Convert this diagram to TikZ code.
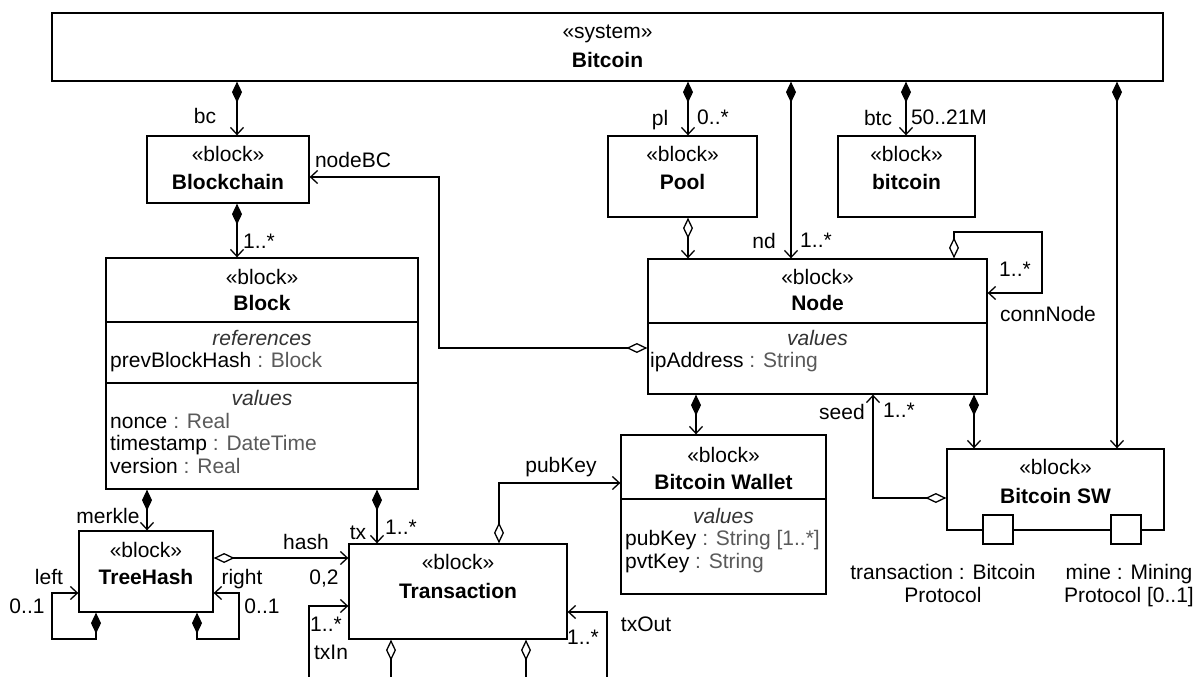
\documentclass[tikz,border=0pt]{standalone}
\usepackage{fontspec}
\setmainfont{Liberation Sans}
\usetikzlibrary{arrows.meta,calc}
\definecolor{typegray}{HTML}{5A5A5A}
\definecolor{stereogray}{HTML}{333333}
\begin{document}
\begin{tikzpicture}[x=1pt,y=-1pt,
  box/.style={draw, line width=1.3pt, inner sep=0pt, fill=white},
  lbl/.style={font=\fontsize{21}{23}\selectfont, inner sep=0pt, text height=15pt, text depth=2pt},
  ttl/.style={lbl, font=\fontsize{21}{23}\selectfont\bfseries},
  comptxt/.style={lbl, font=\fontsize{21}{23}\selectfont\itshape, text=stereogray},
  attr/.style={lbl, anchor=west},
  conn/.style={line width=1.3pt},
  comp/.style={conn, {Diamond[length=21pt,width=10pt]}-{Straight Barb[length=7pt,width=13pt]}},
  aggr/.style={conn, {Diamond[open,length=21pt,width=10pt]}-{Straight Barb[length=7pt,width=13pt]}},
  aggrn/.style={conn, {Diamond[open,length=21pt,width=10pt]}-},
  assoc/.style={conn, -{Straight Barb[length=7pt,width=13pt]}}
]
\useasboundingbox (0,0) rectangle (1203,677);
\fill[white] (0,0) rectangle (1203,677);

% ---------- boxes ----------
\node[box, minimum width=1111pt, minimum height=68pt] (sys) at (607.5,47) {};
\node[box, minimum width=162pt, minimum height=67pt] (blockchain) at (228,169.5) {};
\node[box, minimum width=149pt, minimum height=81pt] (pool) at (682.5,176.5) {};
\node[box, minimum width=137pt, minimum height=81pt] (btcb) at (906.5,176.5) {};
\node[box, minimum width=312pt, minimum height=231pt] (block) at (262,373.5) {};
\node[box, minimum width=339pt, minimum height=135pt] (nodeb) at (817.5,326.5) {};
\node[box, minimum width=205pt, minimum height=159pt] (wallet) at (723.5,514.5) {};
\node[box, minimum width=217pt, minimum height=81pt] (sw) at (1055.5,489.5) {};
\node[box, minimum width=134pt, minimum height=81pt] (treehash) at (146,571.5) {};
\node[box, minimum width=218pt, minimum height=95pt] (trans) at (458,591.5) {};
\node[box, minimum width=30pt, minimum height=29pt] (port1) at (998,529.5) {};
\node[box, minimum width=30pt, minimum height=29pt] (port2) at (1126,529.5) {};

% compartment lines
\coordinate (yb1) at (0,322);
\coordinate (yb2) at (0,383);
\coordinate (yn1) at (0,323);
\coordinate (yw1) at (0,499);
\draw[conn] (block.west |- yb1) -- (block.east |- yb1);
\draw[conn] (block.west |- yb2) -- (block.east |- yb2);
\draw[conn] (nodeb.west |- yn1) -- (nodeb.east |- yn1);
\draw[conn] (wallet.west |- yw1) -- (wallet.east |- yw1);

% ---------- box texts ----------
\node[lbl] (sysS) at (607.5,32) {«system»};
\node[ttl] (sysT) at (607.5,61) {Bitcoin};
\node[lbl] (bcS) at (228,155) {«block»};
\node[ttl] (bcT) at (228,183) {Blockchain};
\node[lbl] (plS) at (682.5,155) {«block»};
\node[ttl] (plT) at (682.5,183) {Pool};
\node[lbl] (btS) at (906.5,155) {«block»};
\node[ttl] (btT) at (906.5,183) {bitcoin};
\node[lbl] (blS) at (262,278) {«block»};
\node[ttl] (blT) at (262,304) {Block};
\node[comptxt] (blR) at (262,339) {references};
\node[attr] (blA1) at (110,361) {prevBlockHash \textcolor{typegray}{: Block}};
\node[comptxt] (blV) at (262,399) {values};
\node[attr] (blA2) at (110,422) {nonce \textcolor{typegray}{: Real}};
\node[attr] (blA3) at (110,444) {timestamp \textcolor{typegray}{: DateTime}};
\node[attr] (blA4) at (110,467) {version \textcolor{typegray}{: Real}};
\node[lbl] (ndS) at (817.5,278) {«block»};
\node[ttl] (ndT) at (817.5,304) {Node};
\node[comptxt] (ndV) at (817.5,339) {values};
\node[attr] (ndA1) at (650,361) {ipAddress \textcolor{typegray}{: String}};
\node[lbl] (wlS) at (723.5,456) {«block»};
\node[ttl] (wlT) at (723.5,483) {Bitcoin Wallet};
\node[comptxt] (wlV) at (723.5,517) {values};
\node[attr] (wlA1) at (625,539) {pubKey \textcolor{typegray}{: String [1..*]}};
\node[attr] (wlA2) at (625,562) {pvtKey \textcolor{typegray}{: String}};
\node[lbl] (swS) at (1055.5,468) {«block»};
\node[ttl] (swT) at (1055.5,497) {Bitcoin SW};
\node[lbl] (thS) at (146,551) {«block»};
\node[ttl] (thT) at (146,578) {TreeHash};
\node[lbl] (trS) at (458,563) {«block»};
\node[ttl] (trT) at (458,592) {Transaction};
\node[lbl] (p1a) at (943,573) {transaction : Bitcoin};
\node[lbl] (p1b) at (943,596) {Protocol};
\node[lbl] (p2a) at (1129,573) {mine : Mining};
\node[lbl] (p2b) at (1129,596) {Protocol [0..1]};

% ---------- connector coordinates ----------
\coordinate (xbc) at (237,0);
\coordinate (xpl) at (688,0);
\coordinate (xnd) at (791,0);
\coordinate (xbtc) at (906,0);
\coordinate (xsw) at (1117,0);
\coordinate (xnw) at (696,0);
\coordinate (xns) at (974,0);
\coordinate (xm) at (147,0);
\coordinate (xtx) at (377,0);
\coordinate (yh) at (0,558);
\coordinate (nbc1) at (439,348);
\coordinate (nbc2) at (439,177);
\coordinate (lp1) at (954,232);
\coordinate (lp2) at (1042,232);
\coordinate (lp3) at (1042,293);
\coordinate (sd1) at (873,498);
\coordinate (pk1) at (499,483);
\coordinate (la) at (96,639);
\coordinate (lb) at (52,639);
\coordinate (lc) at (52,593);
\coordinate (ra) at (197,639);
\coordinate (rb) at (239,639);
\coordinate (rc) at (239,593);
\coordinate (ti1) at (309,677);
\coordinate (ti2) at (309,606);
\coordinate (to1) at (607,677);
\coordinate (to2) at (607,612);
\coordinate (d1) at (391,677);
\coordinate (d2) at (526,677);

% ---------- connectors ----------
\draw[comp] (sys.south -| xbc) -- (blockchain.north -| xbc);
\draw[comp] (sys.south -| xpl) -- (pool.north -| xpl);
\draw[comp] (sys.south -| xnd) -- (nodeb.north -| xnd);
\draw[comp] (sys.south -| xbtc) -- (btcb.north -| xbtc);
\draw[comp] (sys.south -| xsw) -- (sw.north -| xsw);
\draw[comp] (blockchain.south -| xbc) -- (block.north -| xbc);
\draw[aggr] (pool.south -| xpl) -- (nodeb.north -| xpl);
\draw[aggr] (nodeb.west |- nbc1) -- (nbc1) -- (nbc2) -- (blockchain.east |- nbc2);
\draw[aggr] (nodeb.north -| lp1) -- (lp1) -- (lp2) -- (lp3) -- (nodeb.east |- lp3);
\draw[comp] (nodeb.south -| xnw) -- (wallet.north -| xnw);
\draw[comp] (nodeb.south -| xns) -- (sw.north -| xns);
\draw[aggr] (sw.west |- sd1) -- (sd1) -- (nodeb.south -| sd1);
\draw[comp] (block.south -| xm) -- (treehash.north -| xm);
\draw[comp] (block.south -| xtx) -- (trans.north -| xtx);
\draw[aggr] (treehash.east |- yh) -- (trans.west |- yh);
\draw[comp] (treehash.south -| la) -- (la) -- (lb) -- (lc) -- (treehash.west |- lc);
\draw[comp] (treehash.south -| ra) -- (ra) -- (rb) -- (rc) -- (treehash.east |- rc);
\draw[aggr] (trans.north -| pk1) -- (pk1) -- (wallet.west |- pk1);
\draw[assoc] (ti1) -- (ti2) -- (trans.west |- ti2);
\draw[assoc] (to1) -- (to2) -- (trans.east |- to2);
\draw[aggrn] (trans.south -| d1) -- (d1);
\draw[aggrn] (trans.south -| d2) -- (d2);

% ---------- connector labels ----------
\node[lbl] (lbc) at (205,117) {bc};
\node[lbl] (lbb) at (259,242) {1..*};
\node[lbl] (lnodebc) at (353,161) {nodeBC};
\node[lbl] (lpl) at (660,119) {pl};
\node[lbl] (lpl2) at (713,118) {0..*};
\node[lbl] (lnd) at (764,242) {nd};
\node[lbl] (lnd2) at (816,241) {1..*};
\node[lbl] (lbtc) at (878,119) {btc};
\node[lbl] (lbtc2) at (949,118) {50..21M};
\node[lbl] (lcn1) at (1015,270) {1..*};
\node[lbl] (lcn2) at (1048,315) {connNode};
\node[lbl] (lseed) at (842,413) {seed};
\node[lbl] (lseed2) at (899,411) {1..*};
\node[lbl] (lmerkle) at (108,517) {merkle};
\node[lbl] (ltx) at (358,533) {tx};
\node[lbl] (ltx2) at (401,528) {1..*};
\node[lbl] (lhash) at (306,543) {hash};
\node[lbl] (lhash2) at (324,578) {0,2};
\node[lbl] (lleft) at (49,578) {left};
\node[lbl] (lleft2) at (27,607) {0..1};
\node[lbl] (lright) at (242,578) {right};
\node[lbl] (lright2) at (262,607) {0..1};
\node[lbl] (ltxin2) at (326,625) {1..*};
\node[lbl] (ltxin) at (331,653) {txIn};
\node[lbl] (ltxout2) at (583,638) {1..*};
\node[lbl] (ltxout) at (646,625) {txOut};
\node[lbl] (lpub) at (561,466) {pubKey};
\end{tikzpicture}
\end{document}
